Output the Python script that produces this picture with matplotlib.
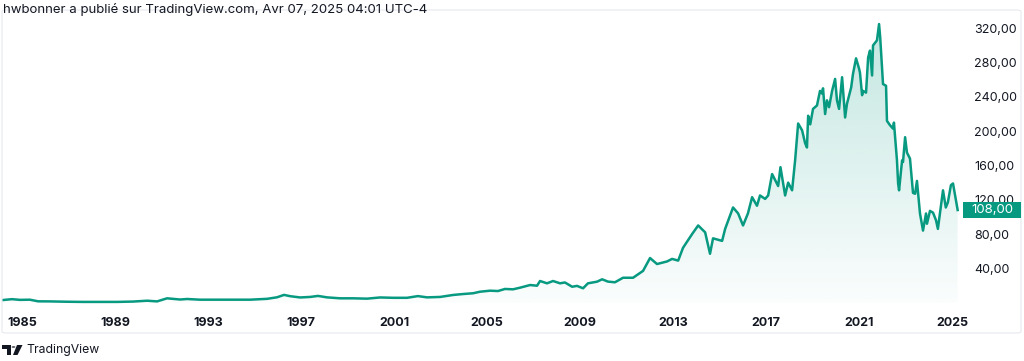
import numpy as np
import matplotlib.pyplot as plt
from matplotlib.patches import Polygon, Rectangle, FancyBboxPatch, Circle
from matplotlib.transforms import blended_transform_factory
from matplotlib.ticker import FuncFormatter

plt.rcParams['font.family'] = ['Inter', 'DejaVu Sans']

# monthly-ish closes (decimal year, price)
years = [1984.18, 1984.57, 1984.91, 1985.34, 1985.69, 1986.20, 1986.94, 1987.62, 1988.35, 1989.09,
         1989.77, 1990.38, 1990.81, 1991.24, 1991.80, 1992.10, 1992.66, 1993.39, 1994.08, 1994.81,
         1995.54, 1995.97, 1996.27, 1996.53, 1996.96, 1997.39, 1997.73, 1998.12, 1998.68, 1999.24,
         1999.84, 2000.40, 2000.96, 2001.56, 2002.03, 2002.42, 2002.98, 2003.54, 2003.97, 2004.40,
         2004.70, 2005.13, 2005.47, 2005.77, 2006.12, 2006.42, 2006.85, 2007.15, 2007.28, 2007.58,
         2007.84, 2008.14, 2008.35, 2008.66, 2008.87, 2009.13, 2009.34, 2009.73, 2009.95, 2010.20,
         2010.50, 2010.85, 2011.28, 2011.71, 2012.01, 2012.31, 2012.74, 2012.96, 2013.22, 2013.43,
         2013.82, 2014.08, 2014.38, 2014.59, 2014.72, 2015.11, 2015.24, 2015.58, 2015.80, 2016.01,
         2016.22, 2016.40, 2016.61, 2016.74, 2016.96, 2017.09, 2017.26, 2017.52, 2017.62, 2017.82,
         2017.95, 2018.12, 2018.25, 2018.38, 2018.55, 2018.68, 2018.76, 2018.81, 2018.90, 2019.02,
         2019.19, 2019.32, 2019.40, 2019.45, 2019.54, 2019.62, 2019.71, 2019.84, 2019.97, 2020.05,
         2020.14, 2020.27, 2020.40, 2020.48, 2020.66, 2020.74, 2020.87, 2021.00, 2021.04, 2021.13,
         2021.17, 2021.30, 2021.39, 2021.47, 2021.56, 2021.60, 2021.77, 2021.86, 2021.91, 2022.03,
         2022.16, 2022.20, 2022.33, 2022.46, 2022.50, 2022.63, 2022.68, 2022.72, 2022.85, 2022.89,
         2022.98, 2023.06, 2023.19, 2023.32, 2023.41, 2023.49, 2023.62, 2023.75, 2023.88, 2023.92,
         2024.05, 2024.18, 2024.31, 2024.39, 2024.57, 2024.61, 2024.73, 2024.82, 2024.95, 2025.04,
         2025.24]
prices = [3.0, 4.0, 3.2, 3.4, 1.5, 1.4, 1.0, 0.8, 0.8, 0.8,
          1.2, 2.2, 1.4, 5.0, 3.6, 4.2, 3.4, 3.4, 3.4, 3.4,
          4.4, 6.2, 9.0, 7.5, 6.0, 6.6, 7.8, 6.1, 5.0, 5.0,
          4.6, 6.0, 5.6, 5.6, 7.6, 6.1, 6.6, 8.9, 10.0, 10.9,
          12.7, 13.9, 13.5, 15.9, 15.5, 17.4, 20.5, 19.7, 25.2, 22.5,
          25.2, 22.5, 23.5, 18.5, 19.5, 16.7, 22.5, 24.4, 27.2, 24.5,
          23.7, 29.0, 29.0, 37.0, 52.0, 45.0, 48.0, 51.0, 49.0, 64.0,
          80.0, 90.0, 82.0, 57.0, 75.0, 72.0, 86.0, 111.0, 104.0, 90.0,
          104.0, 123.0, 113.0, 125.0, 121.0, 125.0, 150.0, 136.0, 158.0, 125.0,
          140.0, 131.0, 166.0, 209.0, 201.0, 186.0, 181.0, 218.0, 208.0, 226.0,
          230.0, 247.0, 244.0, 250.0, 220.0, 236.0, 228.0, 247.0, 261.0, 236.0,
          226.0, 263.0, 216.0, 232.0, 251.0, 267.0, 285.0, 273.0, 268.0, 242.0,
          247.0, 245.0, 286.0, 294.0, 265.0, 300.0, 306.0, 325.0, 309.0, 255.0,
          253.0, 212.0, 207.0, 203.0, 210.0, 166.0, 139.0, 131.0, 166.0, 164.0,
          193.0, 175.0, 168.0, 128.0, 127.0, 142.0, 104.0, 84.0, 104.0, 92.0,
          107.0, 105.0, 96.0, 86.0, 123.0, 131.0, 111.0, 117.0, 137.0, 139.0,
          108.0]
year_ticks = list(range(1985, 2026, 4))
price_ticks = list(range(40, 321, 40))
last_price = prices[-1]

GREEN = '#089981'
TXT = '#131722'
W, H = 1024, 361


def fx(px):
    return px / W


def fy(py):
    return 1 - py / H


fig = plt.figure(figsize=(W / 100, H / 100), dpi=100)
fig.patch.set_facecolor('white')

# chart panel border
fig.add_artist(FancyBboxPatch((fx(2), fy(333)), fx(1021) - fx(2), fy(10) - fy(333),
                              boxstyle='round,pad=0,rounding_size=0.004',
                              transform=fig.transFigure, facecolor='none',
                              edgecolor='#e6e9ef', lw=0.8))

ax = fig.add_axes([fx(2), fy(305), fx(963) - fx(2), fy(10) - fy(305)])
ax.set_facecolor('none')

# line + gradient area fill
ax.plot(years, prices, color=GREEN, lw=1.8, zorder=3, solid_joinstyle='round')
rgb = np.array([8, 153, 129]) / 255
grad = np.zeros((256, 1, 4))
grad[..., :3] = rgb
grad[..., 3] = np.linspace(0.02, 0.24, 256).reshape(-1, 1)
img = ax.imshow(grad, extent=[years[0], years[-1], 0, max(prices)], origin='lower',
                aspect='auto', zorder=2, interpolation='bilinear')
area = Polygon(np.column_stack([np.r_[years[0], years, years[-1]], np.r_[0, prices, 0]]),
               closed=True, facecolor='none', edgecolor='none')
ax.add_patch(area)
img.set_clip_path(area)

ax.set_xlim(1984.14, 2025.47)
ax.set_ylim(-2.8, 341.4)

for s in ax.spines.values():
    s.set_visible(False)

ax.set_xticks(year_ticks)
ax.set_xticklabels([str(y) for y in year_ticks])
ax.tick_params(axis='x', length=0, pad=9, labelsize=9, colors=TXT)
for lab in ax.get_xticklabels():
    lab.set_fontweight('bold')

ax.yaxis.tick_right()
ax.set_yticks(price_ticks)
ax.yaxis.set_major_formatter(FuncFormatter(lambda v, p: f'{v:.2f}'.replace('.', ',')))
ax.tick_params(axis='y', length=0, pad=8, labelsize=9, colors=TXT)

# last price tag
tr = blended_transform_factory(fig.transFigure, ax.transData)
fig.add_artist(Rectangle((fx(963), last_price - 9.3), fx(1021) - fx(963), 18.7,
                         transform=tr, facecolor=GREEN, edgecolor='none', zorder=5))
fig.text(fx(992), last_price, f'{last_price:.2f}'.replace('.', ','), transform=tr,
         ha='center', va='center', color='white', fontsize=9.5, zorder=6)

# header
fig.text(fx(3), fy(9), 'hwbonner a publié sur TradingView.com, Avr 07, 2025 04:01 UTC-4',
         ha='left', va='center', fontsize=9.5, color=TXT)

# footer logo
fig.add_artist(Polygon([(fx(2), fy(345)), (fx(11), fy(345)), (fx(11), fy(355)), (fx(7), fy(355)),
                        (fx(7), fy(348.5)), (fx(2), fy(348.5))], closed=True,
                       transform=fig.transFigure, facecolor=TXT, edgecolor='none'))
fig.add_artist(Circle((fx(13.5), fy(347)), 1.9 / W, transform=fig.transFigure,
                      facecolor=TXT, edgecolor='none'))
fig.add_artist(Polygon([(fx(17), fy(345)), (fx(22.5), fy(345)), (fx(17.5), fy(355)), (fx(13), fy(355))],
                       closed=True, transform=fig.transFigure, facecolor=TXT, edgecolor='none'))
fig.text(fx(26), fy(350), 'TradingView', ha='left', va='center', fontsize=8.8, color=TXT)

fig.savefig('out.png', dpi=100)
